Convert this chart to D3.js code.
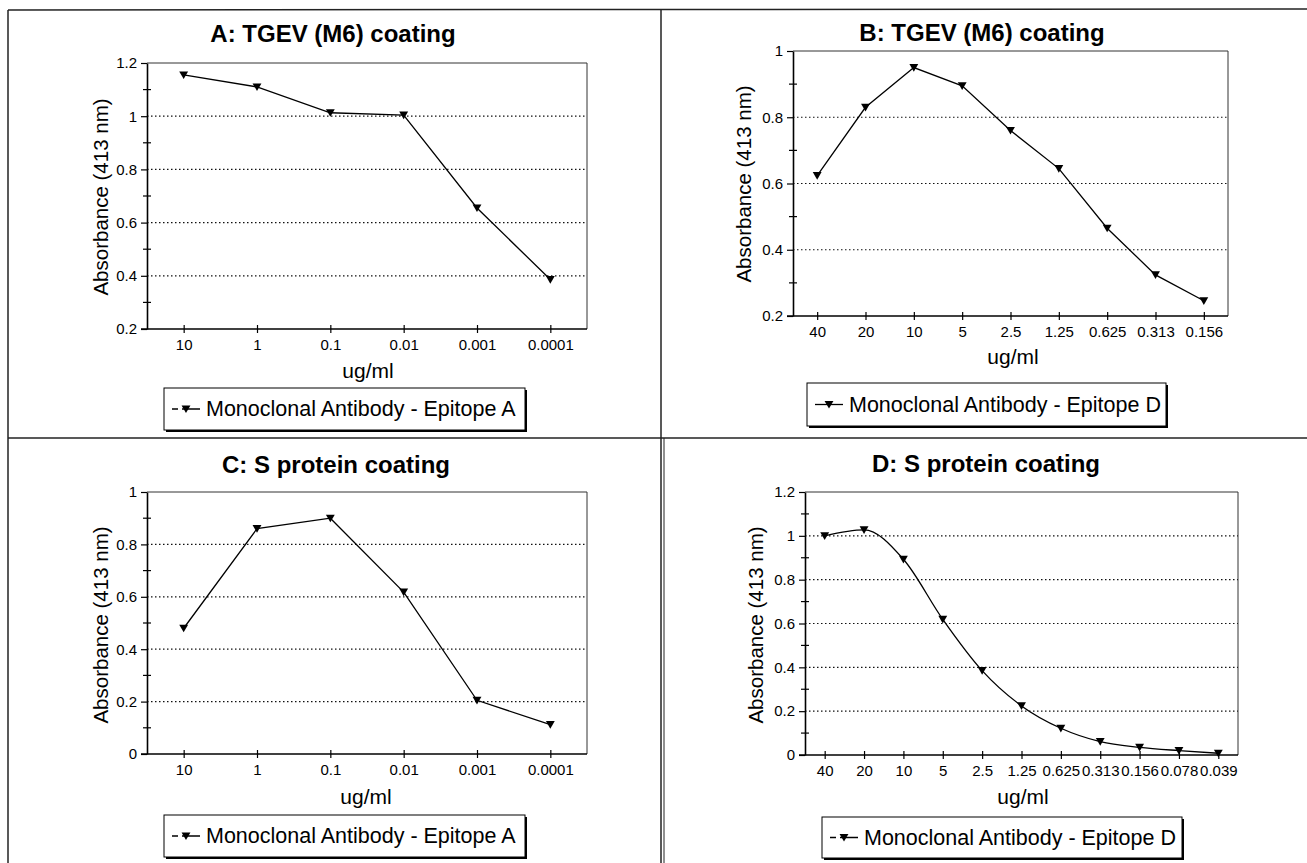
<!DOCTYPE html>
<html>
<head>
<meta charset="utf-8">
<script src="https://cdn.jsdelivr.net/npm/d3@7"></script>
<style>
  html, body { margin: 0; padding: 0; background: #fff; }
  svg { display: block; font-family: "Liberation Sans", Arial, sans-serif; }
</style>
</head>
<body>
<div id="chart"></div>
<script>
// ---------- data ----------
const concAC = ["10", "1", "0.1", "0.01", "0.001", "0.0001"];
const concB = ["40", "20", "10", "5", "2.5", "1.25", "0.625", "0.313", "0.156"];
const concD = ["40", "20", "10", "5", "2.5", "1.25", "0.625", "0.313", "0.156", "0.078", "0.039"];

const absA = [1.155, 1.11, 1.013, 1.004, 0.655, 0.386];
const absB = [0.624, 0.83, 0.95, 0.895, 0.76, 0.645, 0.465, 0.324, 0.246];
const absC = [0.48, 0.86, 0.90, 0.618, 0.205, 0.112];
const absD = [1.0, 1.027, 0.893, 0.619, 0.385, 0.224, 0.122, 0.061, 0.035, 0.02, 0.008];

const yTicksA = [0.2, 0.4, 0.6, 0.8, 1, 1.2];
const yTicksB = [0.2, 0.4, 0.6, 0.8, 1];
const yTicksC = [0, 0.2, 0.4, 0.6, 0.8, 1];
const yTicksD = [0, 0.2, 0.4, 0.6, 0.8, 1, 1.2];

const titles = ["A: TGEV (M6) coating", "B: TGEV (M6) coating", "C: S protein coating", "D: S protein coating"];
const legends = ["Monoclonal Antibody - Epitope A", "Monoclonal Antibody - Epitope D",
                 "Monoclonal Antibody - Epitope A", "Monoclonal Antibody - Epitope D"];
const xTitle = "ug/ml";
const yTitle = "Absorbance (413 nm)";

const W = 1307, H = 863;

// ---------- layout per panel ----------
const panels = [
  { title: titles[0], cats: concAC, vals: absA, ticks: yTicksA, legend: legends[0], dashed: true, smooth: false,
    plot: { l: 147, r: 587, t: 63, b: 329 }, tx: 333, ty: 42, xt: [368, 378], yt: [100, 197], lg: [164, 388, 361, 42] },
  { title: titles[1], cats: concB, vals: absB, ticks: yTicksB, legend: legends[1], dashed: false, smooth: false,
    plot: { l: 793, r: 1228, t: 51, b: 316 }, tx: 982, ty: 41, xt: [1013, 364], yt: [743, 184], lg: [807, 383, 359, 43] },
  { title: titles[2], cats: concAC, vals: absC, ticks: yTicksC, legend: legends[2], dashed: true, smooth: false,
    plot: { l: 147, r: 587, t: 492, b: 754 }, tx: 336, ty: 473, xt: [366, 804], yt: [100, 625], lg: [164, 815, 361, 42] },
  { title: titles[3], cats: concD, vals: absD, ticks: yTicksD, legend: legends[3], dashed: true, smooth: true,
    plot: { l: 805, r: 1238, t: 492, b: 755 }, tx: 986, ty: 472, xt: [1023, 804], yt: [755, 625], lg: [822, 817, 360, 41] }
];

const svg = d3.select("#chart").append("svg").attr("width", W).attr("height", H);

// ---------- frame lines ----------
const frame = svg.append("g").attr("stroke", "#222").attr("stroke-width", 1.5);
frame.append("line").attr("x1", 8).attr("x2", W).attr("y1", 10).attr("y2", 9);
frame.append("line").attr("x1", 8).attr("x2", 8).attr("y1", 10).attr("y2", H);
frame.append("line").attr("x1", 661).attr("x2", 661).attr("y1", 10).attr("y2", H);
frame.append("line").attr("x1", 664).attr("x2", 664).attr("y1", 438).attr("y2", H).attr("stroke-width", 1);
frame.append("line").attr("x1", 8).attr("x2", W).attr("y1", 438).attr("y2", 438);

const tri = d3.symbol().type(d3.symbolTriangle).size(34);

function drawPanel(p) {
  const w = p.plot.r - p.plot.l, h = p.plot.b - p.plot.t;
  const g = svg.append("g").attr("transform", `translate(${p.plot.l},${p.plot.t})`);

  const x = d3.scalePoint().domain(p.cats).range([0, w]).padding(0.5);
  const yMin = d3.min(p.ticks), yMax = d3.max(p.ticks);
  const y = d3.scaleLinear().domain([yMin, yMax]).range([h, 0]);

  // gridlines (dotted)
  g.append("g").selectAll("line")
    .data(p.ticks.filter(t => t > yMin && t < yMax))
    .join("line")
    .attr("x1", 0).attr("x2", w)
    .attr("y1", d => y(d)).attr("y2", d => y(d))
    .attr("stroke", "#111").attr("stroke-width", 1.2)
    .attr("stroke-dasharray", "1.5,2.5");

  // plot border top/right
  g.append("path")
    .attr("d", `M0,0H${w}V${h}`)
    .attr("fill", "none").attr("stroke", "#333").attr("stroke-width", 1);

  // minor y ticks (crossing)
  const minors = d3.range(p.ticks.length - 1).map(i => (p.ticks[i] + p.ticks[i + 1]) / 2);
  g.append("g").selectAll("line").data(minors).join("line")
    .attr("x1", -4).attr("x2", 4)
    .attr("y1", d => y(d)).attr("y2", d => y(d))
    .attr("stroke", "#000").attr("stroke-width", 1.2);

  // y axis
  const yAxis = g.append("g")
    .call(d3.axisLeft(y).tickValues(p.ticks).tickSizeInner(6).tickSizeOuter(0).tickPadding(4)
      .tickFormat(d => d3.format("~g")(d)));
  yAxis.select(".domain").attr("stroke-width", 1.6);
  yAxis.selectAll(".tick line").attr("stroke-width", 1.2);
  yAxis.selectAll("text").attr("font-size", 15).attr("font-family", "Liberation Sans, Arial, sans-serif").attr("fill", "#000");

  // x axis
  const xAxis = g.append("g").attr("transform", `translate(0,${h})`)
    .call(d3.axisBottom(x).tickSizeInner(4).tickSizeOuter(0).tickPadding(6));
  xAxis.select(".domain").attr("d", `M-6,0H${w}`).attr("stroke-width", 1.6);
  xAxis.selectAll(".tick line").attr("y1", -4).attr("stroke-width", 1.2);
  xAxis.selectAll("text").attr("font-size", 15).attr("font-family", "Liberation Sans, Arial, sans-serif").attr("fill", "#000");

  // series line
  const pts = p.cats.map((c, i) => ({ c: c, v: p.vals[i] }));
  const line = d3.line().x(d => x(d.c)).y(d => y(d.v))
    .curve(p.smooth ? d3.curveMonotoneX : d3.curveLinear);
  g.append("path").attr("d", line(pts))
    .attr("fill", "none").attr("stroke", "#000").attr("stroke-width", 1.3);

  g.append("g").selectAll("path").data(pts).join("path")
    .attr("d", tri)
    .attr("transform", d => `translate(${x(d.c)},${y(d.v) - 1}) rotate(180)`)
    .attr("fill", "#000");

  // titles
  svg.append("text").attr("x", p.tx).attr("y", p.ty)
    .attr("text-anchor", "middle").attr("font-size", 24).attr("font-weight", "bold")
    .text(p.title);
  svg.append("text").attr("x", p.xt[0]).attr("y", p.xt[1])
    .attr("text-anchor", "middle").attr("font-size", 21)
    .text(xTitle);
  svg.append("text")
    .attr("transform", `translate(${p.yt[0]},${p.yt[1]}) rotate(-90)`)
    .attr("text-anchor", "middle").attr("dominant-baseline", "central").attr("font-size", 20.5)
    .text(yTitle);

  // legend
  const [lx, ly, lw, lh] = p.lg;
  const lg = svg.append("g").attr("transform", `translate(${lx},${ly})`);
  lg.append("rect").attr("x", 2).attr("y", 2).attr("width", lw).attr("height", lh).attr("fill", "#000");
  lg.append("rect").attr("width", lw).attr("height", lh).attr("fill", "#fff").attr("stroke", "#000").attr("stroke-width", 1);
  lg.append("line").attr("x1", 8).attr("x2", 36).attr("y1", lh / 2).attr("y2", lh / 2)
    .attr("stroke", "#000").attr("stroke-width", 1.3)
    .attr("stroke-dasharray", p.dashed ? "6,4,18" : null);
  lg.append("path").attr("d", tri)
    .attr("transform", `translate(22,${lh / 2 - 1}) rotate(180)`).attr("fill", "#000");
  lg.append("text").attr("x", 42).attr("y", lh / 2).attr("dominant-baseline", "central")
    .attr("font-size", 21.5).text(p.legend);
}

panels.forEach(drawPanel);
</script>
</body>
</html>
